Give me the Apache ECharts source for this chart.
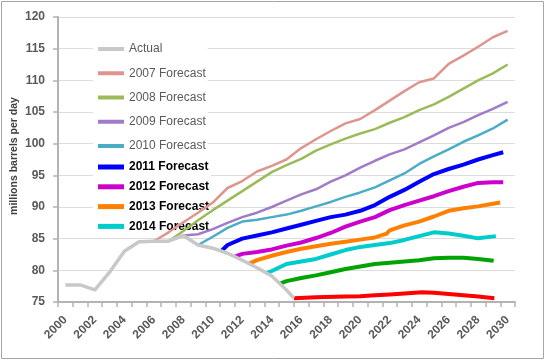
<!DOCTYPE html>
<html>
<head>
<meta charset="utf-8">
<script src="https://cdn.jsdelivr.net/npm/echarts@6/dist/echarts.min.js"></script>
<style>html,body{margin:0;padding:0;background:#fff;}#c{width:547px;height:360px;}</style>
</head>
<body>
<div id="c"></div>
<script>
// Category tick labels (years)
const categories = ['2000','2001','2002','2003','2004','2005','2006','2007','2008','2009','2010',
  '2011','2012','2013','2014','2015','2016','2017','2018','2019','2020',
  '2021','2022','2023','2024','2025','2026','2027','2028','2029','2030'];

// Series values as [year, million barrels per day]
const actual = [[2000,77.7],[2001,77.7],[2002,76.9],[2003,79.7],[2004,83.0],[2005,84.5],[2006,84.6],[2007,84.6],[2008,85.5],[2009,84.0],[2010,83.5],[2011,82.7],[2012,81.6],[2013,80.4],[2014,79.1],[2015,76.9],[2015.5,75.6]];
const f2007 = [[2006,84.6],[2007,86.0],[2008,87.6],[2009,89.1],[2010,90.7],[2011,93.0],[2012,94.1],[2013,95.6],[2014,96.5],[2015,97.5],[2016,99.3],[2017,100.7],[2018,102.0],[2019,103.2],[2020,103.9],[2021,105.3],[2022,106.8],[2023,108.3],[2024,109.7],[2025,110.3],[2026,112.6],[2027,113.9],[2028,115.3],[2029,116.8],[2030,117.8]];
const f2008 = [[2007,84.6],[2008,86.2],[2009,87.9],[2010,89.5],[2011,91.0],[2012,92.5],[2013,94.0],[2014,95.5],[2015,96.6],[2016,97.6],[2017,98.9],[2018,99.9],[2019,100.8],[2020,101.6],[2021,102.3],[2022,103.3],[2023,104.2],[2024,105.3],[2025,106.2],[2026,107.4],[2027,108.7],[2028,110.0],[2029,111.1],[2030,112.5]];
const f2009 = [[2008,85.5],[2009,85.7],[2010,86.5],[2011,87.5],[2012,88.4],[2013,89.1],[2014,90.0],[2015,91.0],[2016,92.0],[2017,92.8],[2018,94.0],[2019,95.0],[2020,96.2],[2021,97.3],[2022,98.3],[2023,99.1],[2024,100.2],[2025,101.3],[2026,102.5],[2027,103.4],[2028,104.5],[2029,105.5],[2030,106.6]];
const f2010 = [[2009,84.0],[2010,85.3],[2011,86.7],[2012,87.7],[2013,88.0],[2014,88.4],[2015,88.8],[2016,89.4],[2017,90.1],[2018,90.8],[2019,91.6],[2020,92.3],[2021,93.1],[2022,94.2],[2023,95.3],[2024,96.8],[2025,98.0],[2026,99.1],[2027,100.3],[2028,101.3],[2029,102.4],[2030,103.8]];
const f2011 = [[2010.6,83.1],[2011,84.0],[2012,85.0],[2013,85.5],[2014,86.0],[2015,86.6],[2016,87.2],[2017,87.8],[2018,88.4],[2019,88.8],[2020,89.4],[2021,90.3],[2022,91.6],[2023,92.7],[2024,94.0],[2025,95.2],[2026,96.0],[2027,96.7],[2028,97.5],[2029,98.2],[2029.7,98.65]];
const f2012 = [[2011.5,82.15],[2012,82.6],[2013,82.9],[2014,83.3],[2015,83.9],[2016,84.4],[2017,85.1],[2018,85.9],[2019,86.9],[2020,87.7],[2021,88.4],[2022,89.5],[2023,90.3],[2024,91.0],[2025,91.7],[2026,92.5],[2027,93.2],[2028,93.8],[2029,93.9],[2029.7,93.9]];
const f2013 = [[2012.46,81.05],[2013,81.6],[2014,82.3],[2015,82.9],[2016,83.4],[2017,83.8],[2018,84.2],[2019,84.5],[2020,84.85],[2021,85.2],[2021.8,85.8],[2022,86.3],[2023,87.1],[2024,87.7],[2025,88.5],[2026,89.4],[2027,89.8],[2028,90.1],[2029,90.5],[2029.5,90.7]];
const f2014 = [[2013.66,79.55],[2014,79.9],[2015,81.0],[2016,81.4],[2017,81.8],[2018,82.5],[2019,83.2],[2020,83.7],[2021,84.0],[2022,84.3],[2023,84.8],[2024,85.4],[2025,86.0],[2026,85.8],[2027,85.45],[2028,85.05],[2029.2,85.4]];
const f2015 = [[2014.56,77.9],[2015,78.3],[2016,78.8],[2017,79.2],[2018,79.7],[2019,80.2],[2020,80.6],[2021,81.0],[2022,81.2],[2023,81.4],[2024,81.6],[2025,81.9],[2026,82.0],[2027,82.0],[2028,81.8],[2029.05,81.5]];
const f2016 = [[2015.5,75.6],[2017,75.75],[2019,75.85],[2020,75.9],[2021,76.05],[2022,76.2],[2023,76.35],[2024.2,76.55],[2025,76.45],[2026,76.25],[2027,76.05],[2028,75.85],[2029.1,75.6]];

const yTicks = {min: 75, max: 120, interval: 5};

const FONT = '"Liberation Sans", Arial, sans-serif';
const chart = echarts.init(document.getElementById('c'), null, {renderer: 'canvas'});

function line(name, data, color, width) {
  return {
    type: 'line', name: name, data: data, xAxisIndex: 1, yAxisIndex: 0,
    symbol: 'none', showSymbol: false, animation: false,
    lineStyle: {color: color, width: width, join: 'round'},
    itemStyle: {color: color}
  };
}

chart.setOption({
  animation: false,
  backgroundColor: '#fff',
  grid: {left: 58, right: 32, top: 17, bottom: 58, containLabel: false},
  legend: [
    {
      data: ['Actual','2007 Forecast','2008 Forecast','2009 Forecast','2010 Forecast'],
      orient: 'vertical', left: 93, top: 34, padding: [8, 2, 4, 5],
      itemGap: 10.25, itemWidth: 26, itemHeight: 4, icon: 'rect',
      backgroundColor: '#fff', z: 1, selectedMode: false,
      textStyle: {fontFamily: FONT, fontSize: 12, color: '#595959', lineHeight: 14}
    },
    {
      data: ['2011 Forecast','2012 Forecast','2013 Forecast','2014 Forecast'],
      orient: 'vertical', left: 93, top: 157, padding: [3, 2, 3, 5],
      itemGap: 5.8, itemWidth: 26, itemHeight: 5, icon: 'rect',
      backgroundColor: '#fff', z: 1, selectedMode: false,
      textStyle: {fontFamily: FONT, fontSize: 12, color: '#000', fontWeight: 'bold', lineHeight: 14}
    }
  ],
  xAxis: [
    {
      type: 'category', data: categories, boundaryGap: true, position: 'bottom',
      axisLine: {lineStyle: {color: '#B3B3B3', width: 2}},
      axisTick: {show: true, interval: 0, length: 5, lineStyle: {color: '#B3B3B3', width: 1.5}},
      axisLabel: {interval: 1, rotate: 45, margin: 16, color: '#595959', fontWeight: 'bold', fontSize: 12, fontFamily: FONT},
      splitLine: {show: false}
    },
    {type: 'value', min: 1999.5, max: 2030.5, show: false}
  ],
  yAxis: {
    type: 'value', min: yTicks.min, max: yTicks.max, interval: yTicks.interval,
    axisLine: {show: true, lineStyle: {color: '#B3B3B3', width: 2}},
    axisTick: {show: true, length: 5, lineStyle: {color: '#B3B3B3', width: 1.5}},
    axisLabel: {margin: 13, color: '#595959', fontWeight: 'bold', fontSize: 12, fontFamily: FONT},
    splitLine: {show: true, lineStyle: {color: '#DCDCDC', width: 1}}
  },
  graphic: [
    {type: 'rect', silent: true, shape: {x: 1.5, y: 1.5, width: 542, height: 357},
     style: {fill: 'none', stroke: '#A6A6A6', lineWidth: 1}},
    {type: 'text', silent: true, x: 14, y: 156, rotation: Math.PI / 2,
     style: {text: 'millions barrels per day', fontFamily: FONT, fontSize: 10.5, fontWeight: 'bold',
             fill: '#404040', align: 'center', verticalAlign: 'middle'}}
  ],
  series: [
    line('2007 Forecast', f2007, '#DE958F', 2.5),
    line('2008 Forecast', f2008, '#9BBB59', 2.5),
    line('2009 Forecast', f2009, '#A07CC8', 2.5),
    line('2010 Forecast', f2010, '#4BACC6', 2.5),
    line('2011 Forecast', f2011, '#0000FF', 4),
    line('2012 Forecast', f2012, '#CC00CC', 4),
    line('2013 Forecast', f2013, '#FF8000', 4),
    line('2014 Forecast', f2014, '#00CCCC', 4),
    line('2015 Forecast', f2015, '#00A400', 4),
    line('2016 Forecast', f2016, '#FF0000', 4),
    line('Actual', actual, '#C8C8C8', 3.5)
  ]
});
</script>
</body>
</html>
